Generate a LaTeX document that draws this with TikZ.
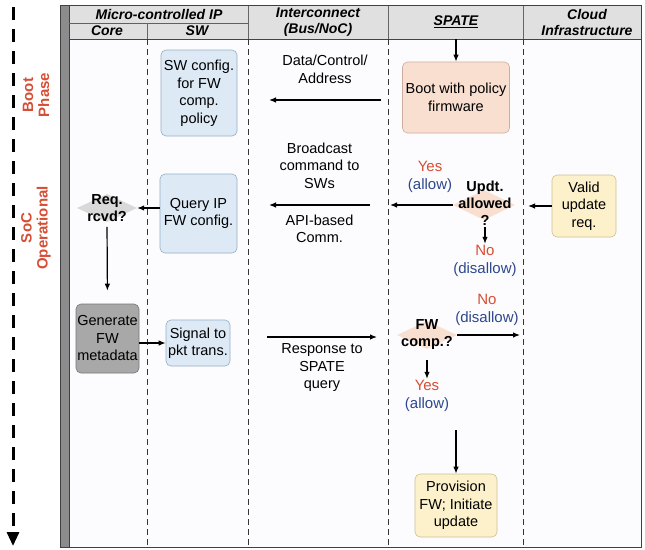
\documentclass[tikz,border=0pt]{standalone}
\usepackage{fontspec}
\setmainfont{Liberation Sans}
\usetikzlibrary{arrows.meta,shapes.geometric}
\definecolor{phasered}{RGB}{214,78,52}
\definecolor{allowblue}{RGB}{45,72,140}
\definecolor{swfill}{RGB}{221,234,246}
\definecolor{swline}{RGB}{150,172,195}
\definecolor{peachfill}{RGB}{249,223,208}
\definecolor{peachline}{RGB}{205,172,160}
\definecolor{yellowfill}{RGB}{252,241,202}
\definecolor{yellowline}{RGB}{205,192,150}
\definecolor{metafill}{RGB}{168,168,168}
\definecolor{metaline}{RGB}{118,118,118}
\definecolor{hdrfill}{RGB}{224,224,224}
\definecolor{hdrline}{RGB}{160,70,58}
\definecolor{lanefill}{RGB}{252,252,254}

\begin{document}
\begin{tikzpicture}[x=1pt,y=-1pt,font=\fontsize{14.5}{17.5}\selectfont,
  flow/.style={-{Latex[length=7pt,width=5.5pt]},line width=1.2pt},
  lane/.style={black!80,line width=.8pt,dash pattern=on 6pt off 4pt},
  task/.style={rounded corners=5pt,line width=.6pt,align=center,inner sep=0pt},
  cond/.style={diamond,inner sep=0pt,draw=none},
  cond text/.style={font=\fontsize{14.5}{17}\selectfont\bfseries,align=center,inner sep=1pt},
  hdr/.style={font=\fontsize{14}{16}\selectfont\bfseries\itshape,align=center,inner sep=0pt},
  phase/.style={text=phasered,font=\fontsize{15}{16}\selectfont\bfseries,align=center,rotate=90},
  verdict/.style={font=\fontsize{15}{18.5}\selectfont,align=center,inner sep=1pt},
  note/.style={align=center,inner sep=1pt}]
\useasboundingbox (0,0) rectangle (645,549);
\path[fill=lanefill] (69,39) rectangle (641,547);
\path[fill=hdrfill] (69,5) rectangle (641,39);
\path[fill=black!45,draw=black!75,line width=.6pt] (60,5) rectangle (69,547);
\draw[hdrline,line width=.6pt] (69,23) -- (248,23);
\draw[hdrline!70!black,line width=.8pt] (69,39) -- (641,39);
\draw[black!60,line width=.6pt] (147,23) -- (147,39) (248,5) -- (248,39) (388,5) -- (388,39) (523,5) -- (523,39);
\foreach \x in {147,248,388,523} \draw[lane] (\x,39) -- (\x,547);
\draw[black!75,line width=1pt] (60,5) rectangle (641,547);
\node[hdr] (mcip) at (159,14) {Micro-controlled IP};
\node[hdr] (core) at (107,31) {Core};
\node[hdr] (sw) at (197,31) {SW};
\node[hdr] (ic) at (318,22) {Interconnect\\(Bus/NoC)};
\node[hdr] (spate) at (456,22) {\underline{SPATE}};
\node[hdr] (cloud) at (587,22) {Cloud\\Infrastructure};
\node[phase] (boot phase) at (36,95) {Boot\\Phase};
\node[phase] (soc phase) at (36,228) {SoC\\Operational};
\coordinate (tstart) at (13,7);
\coordinate (tend) at (13,546);
\draw[line width=3pt,dash pattern=on 13pt off 9pt,-{Triangle[length=14pt,width=12pt]}] (tstart) -- (tend);
\node[task,fill=swfill,draw=swline,minimum width=76pt,minimum height=86pt] (swcfg) at (199,93) {SW config.\\for FW\\comp.\\policy};
\node[task,fill=swfill,draw=swline,minimum width=77pt,minimum height=79pt] (query) at (198.5,213.5) {Query IP\\FW config.};
\node[task,fill=swfill,draw=swline,minimum width=64pt,minimum height=46pt] (signal) at (198,343) {Signal to\\pkt trans.};
\node[task,fill=metafill,draw=metaline,minimum width=63pt,minimum height=69pt] (meta) at (107.5,338.5) {Generate\\FW\\metadata};
\node[task,fill=peachfill,draw=peachline,minimum width=107pt,minimum height=71pt] (bootfw) at (456,97.5) {Boot with policy\\firmware};
\node[task,fill=yellowfill,draw=yellowline,minimum width=64pt,minimum height=62pt] (valid) at (584,206) {Valid\\update\\req.};
\node[task,fill=yellowfill,draw=yellowline,minimum width=82pt,minimum height=63pt] (prov) at (456,505.5) {Provision\\FW; Initiate\\update};
\node[cond,fill=black!15,minimum width=60pt,minimum height=28pt] (reqd) at (107,208) {};
\node[cond text] (reqd txt) at (107,208) {Req.\\rcvd?};
\node[cond,fill=peachfill,minimum width=62pt,minimum height=30pt] (updt) at (484,205) {};
\node[cond text] (updt txt) at (485,203.5) {Updt.\\allowed\\?};
\node[cond,fill=peachfill,minimum width=60pt,minimum height=28pt] (fwc) at (427,335) {};
\node[cond text] (fwc txt) at (427,335) {FW\\comp.?};
\node[verdict] (upd yes) at (430,177) {\textcolor{phasered}{Yes}\\\textcolor{allowblue}{(allow)}};
\node[verdict] (upd no) at (485,261) {\textcolor{phasered}{No}\\\textcolor{allowblue}{(disallow)}};
\node[verdict] (fwc no) at (487,310) {\textcolor{phasered}{No}\\\textcolor{allowblue}{(disallow)}};
\node[verdict] (fwc yes) at (427,396) {\textcolor{phasered}{Yes}\\\textcolor{allowblue}{(allow)}};
\coordinate (spate in) at (456,39);
\coordinate (dca from) at (381,100);
\coordinate (dca to) at (269,100);
\coordinate (bc from) at (370,205);
\coordinate (bc to) at (269,205);
\coordinate (rsp from) at (267,337);
\coordinate (rsp to) at (377,337);
\coordinate (updt out) at (390,205);
\coordinate (valid out) at (528,206);
\coordinate (fwc out) at (520,335);
\coordinate (prov in) at (456,430);
\draw[flow] (spate in) -- (bootfw);
\draw[flow] (dca from) -- node[note,above=15pt] (dca) {Data/Control/\\Address} (dca to);
\draw[flow] (bc from) -- node[note,above=15pt] (bc) {Broadcast\\command to\\SWs} node[note,below=8pt] (api) {API-based\\Comm.} (bc to);
\draw[flow] (rsp from) -- node[note,below=5pt] (rsp) {Response to\\SPATE\\query} (rsp to);
\draw[flow] (updt.west) -- (updt out);
\draw[flow] (valid) -- (valid out);
\draw[flow] (query.west |- reqd.east) -- (reqd.east);
\draw[flow,shorten <=4pt,shorten >=13pt] (reqd txt.south) -- (meta.north);
\draw[flow] (meta.east |- signal) -- (signal.west);
\draw[flow] (updt txt.south) -- (upd no.north);
\draw[flow] (fwc.east) -- (fwc out);
\draw[flow,shorten <=9pt] (fwc txt.south) -- (fwc yes.north);
\draw[flow] (prov in) -- (prov);
\end{tikzpicture}
\end{document}
